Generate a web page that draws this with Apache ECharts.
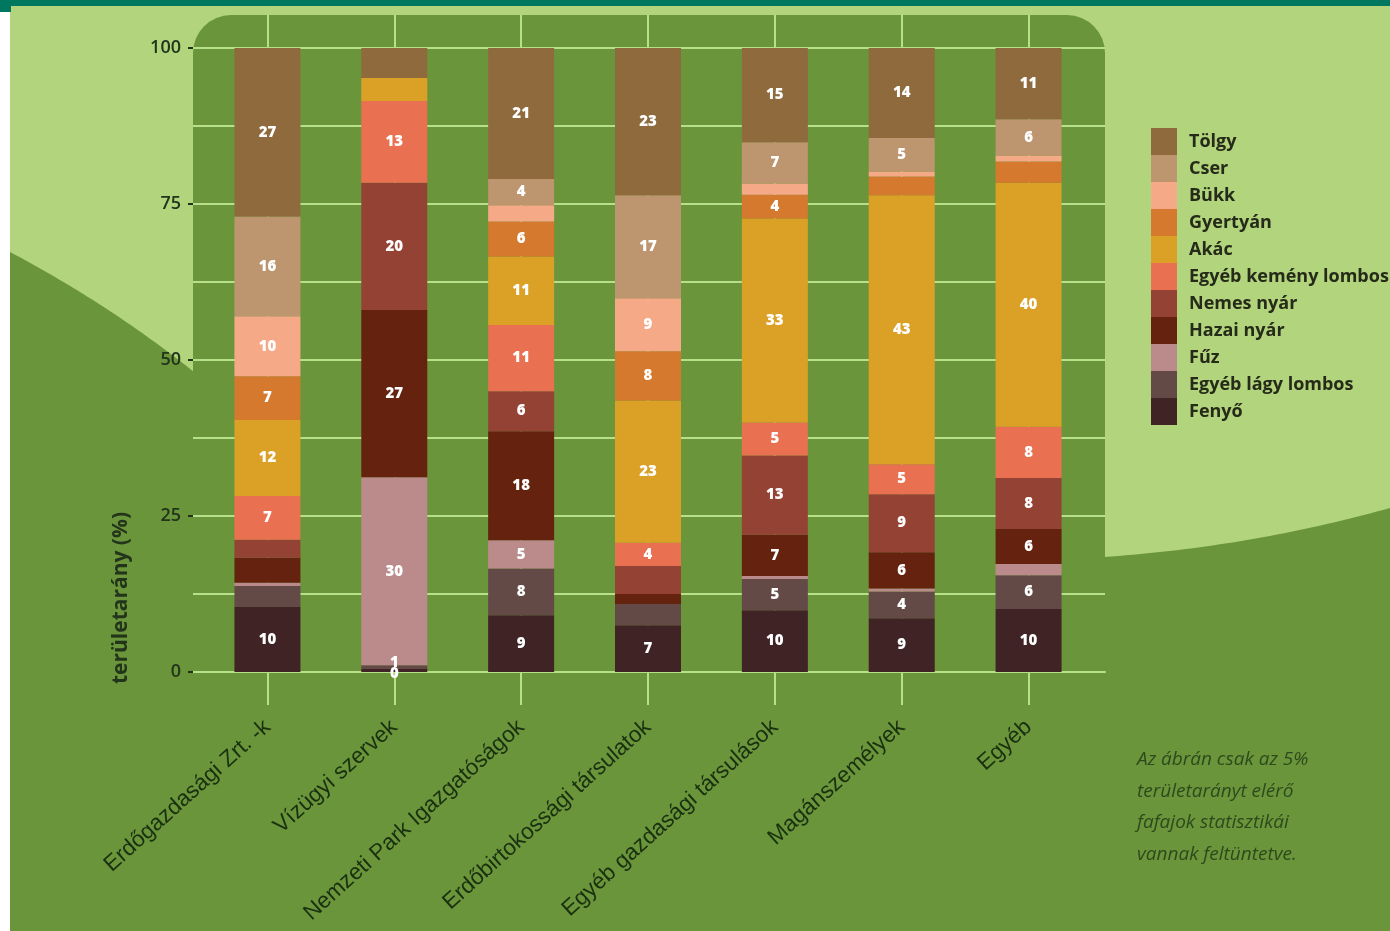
<!DOCTYPE html>
<html>
<head>
<meta charset="utf-8">
<script src="https://cdn.jsdelivr.net/npm/echarts@6/dist/echarts.min.js"></script>
<style>
  html, body { margin: 0; padding: 0; background: #ffffff; }
  #chart { width: 1390px; height: 931px; }
</style>
</head>
<body>
<div id="chart"></div>
<script>
// kategóriák (x tengely)
const categories = ['Erdőgazdasági Zrt. -k', 'Vízügyi szervek', 'Nemzeti Park Igazgatóságok',
  'Erdőbirtokossági társulatok', 'Egyéb gazdasági társulások', 'Magánszemélyek', 'Egyéb'];

// fafajok, fentről lefelé (jelmagyarázat sorrendje)
const species = ['Tölgy', 'Cser', 'Bükk', 'Gyertyán', 'Akác', 'Egyéb kemény lombos',
  'Nemes nyár', 'Hazai nyár', 'Fűz', 'Egyéb lágy lombos', 'Fenyő'];

// területarány (%) kategóriánként
const tolgy       = [27, 4.8, 21, 23.6, 15.1, 14.4, 11.4];
const cser        = [16, 0, 4.2, 16.5, 6.6, 5.4, 5.8];
const bukk        = [9.6, 0, 2.6, 8.5, 1.8, 0.8, 1.0];
const gyertyan    = [7, 0, 5.6, 7.9, 3.8, 3.0, 3.4];
const akac        = [12.2, 3.7, 11, 22.8, 32.7, 43.1, 39.1];
const egyebKemeny = [7, 13.1, 10.6, 3.7, 5.3, 4.8, 8.2];
const nemesNyar   = [2.9, 20.4, 6.4, 4.5, 12.7, 9.3, 8.2];
const hazaiNyar   = [4, 26.8, 17.5, 1.6, 6.6, 5.8, 5.6];
const fuz         = [0.5, 30.1, 4.5, 0, 0.5, 0.5, 1.8];
const egyebLagy   = [3.4, 0.6, 7.5, 3.4, 5.0, 4.3, 5.4];
const fenyo       = [10.4, 0.5, 9.1, 7.5, 9.9, 8.6, 10.1];

// a sávokba írt számok (null = nincs felirat)
const tolgyLbl       = [27, null, 21, 23, 15, 14, 11];
const cserLbl        = [16, null, 4, 17, 7, 5, 6];
const bukkLbl        = [10, null, null, 9, null, null, null];
const gyertyanLbl    = [7, null, 6, 8, 4, null, null];
const akacLbl        = [12, null, 11, 23, 33, 43, 40];
const egyebKemenyLbl = [7, 13, 11, 4, 5, 5, 8];
const nemesNyarLbl   = [null, 20, 6, null, 13, 9, 8];
const hazaiNyarLbl   = [null, 27, 18, null, 7, 6, 6];
const fuzLbl         = [null, 30, 5, null, null, null, null];
const egyebLagyLbl   = [null, 1, 8, null, 5, 4, 6];
const fenyoLbl       = [10, 0, 9, 7, 10, 9, 10];

const yTicks = [0, 25, 50, 75, 100];

const colors = ['#8e6a3d', '#bd9670', '#f6a987', '#d5792e', '#dba126', '#e97050',
  '#944234', '#65230f', '#bb8b8b', '#644a47', '#3f2325'];

const values = [tolgy, cser, bukk, gyertyan, akac, egyebKemeny, nemesNyar, hazaiNyar, fuz, egyebLagy, fenyo];
const labels = [tolgyLbl, cserLbl, bukkLbl, gyertyanLbl, akacLbl, egyebKemenyLbl,
  nemesNyarLbl, hazaiNyarLbl, fuzLbl, egyebLagyLbl, fenyoLbl];

const LIGHT = '#b1d47d';
const DARK = '#6b953b';
const GRIDLINE = '#b8e08a';
const TEXT = '#22351a';

// háttér hullám: másodfokú Bézier-görbe mintavételezve, alul lezárva
function wave(x0, y0, cx, cy, x1, y1) {
  const pts = [];
  for (let k = 0; k <= 40; k++) {
    const t = k / 40;
    const u = 1 - t;
    pts.push([u * u * x0 + 2 * u * t * cx + t * t * x1, u * u * y0 + 2 * u * t * cy + t * t * y1]);
  }
  pts.push([x1, 931], [x0, 931]);
  return pts;
}

// alulról felfelé halmozva: Fenyő legalul
const series = [];
for (let i = species.length - 1; i >= 0; i--) {
  const lbl = labels[i];
  series.push({
    name: species[i],
    type: 'bar',
    stack: 'total',
    xAxisIndex: 1,
    yAxisIndex: 1,
    barWidth: 66,
    itemStyle: { color: colors[i] },
    label: {
      show: true,
      position: 'inside',
      color: '#ffffff',
      fontFamily: 'Open Sans',
      fontWeight: 800,
      fontSize: 15,
      formatter: p => (lbl[p.dataIndex] === null ? '' : String(lbl[p.dataIndex]))
    },
    // nagyon vékony sávoknál a felirat kicsit elcsúszik, mint az eredetin
    data: values[i].map((v, j) => (v < 1 && lbl[j] !== null
      ? { value: v, label: { offset: [0, i === species.length - 1 ? 3 : -4] } }
      : v))
  });
}

const chart = echarts.init(document.getElementById('chart'));
chart.setOption({
  animation: false,
  backgroundColor: '#ffffff',
  graphic: [
    { type: 'rect', z: -20, shape: { x: 10, y: 0, width: 1380, height: 931 }, style: { fill: LIGHT } },
    { type: 'rect', z: -19, shape: { x: 0, y: 0, width: 1390, height: 6 }, style: { fill: '#00785f' } },
    { type: 'rect', z: -19, shape: { x: 0, y: 0, width: 11, height: 12 }, style: { fill: '#00785f' } },
    { type: 'polygon', z: -18, shape: { points: wave(10, 252, 110, 305, 194, 372) }, style: { fill: DARK } },
    { type: 'polygon', z: -18, shape: { points: wave(1104, 557, 1250, 547, 1390, 508) }, style: { fill: DARK } },
    { type: 'rect', z: -18, shape: { x: 193, y: 15, width: 912, height: 916, r: [38, 38, 0, 0] }, style: { fill: DARK } },
    {
      type: 'text', z: 10, x: 121, y: 598, rotation: Math.PI / 2,
      style: {
        text: 'területarány (%)', fill: TEXT, font: 'bold 21px "Open Sans", sans-serif',
        align: 'center', verticalAlign: 'middle'
      }
    },
    {
      type: 'text', z: 10, x: 1137, y: 744,
      style: {
        text: 'Az ábrán csak az 5%\nterületarányt elérő\nfafajok statisztikái\nvannak feltüntetve.',
        fill: '#2c4a1c', font: 'italic 19px "Open Sans", sans-serif', lineHeight: 31.5
      }
    }
  ],
  legend: {
    orient: 'vertical',
    left: 1151,
    top: 128,
    padding: 0,
    itemWidth: 26,
    itemHeight: 27,
    itemGap: 0,
    icon: 'rect',
    selectedMode: false,
    data: species,
    textStyle: {
      color: '#262a18',
      fontFamily: 'Open Sans',
      fontWeight: 700,
      fontSize: 18,
      lineHeight: 18,
      padding: [0, 0, 6, 7]
    }
  },
  grid: [
    { left: 193, right: 285, top: 48, bottom: 259 },
    { left: 204, right: 298, top: 15, bottom: 259 }
  ],
  xAxis: [
    {
      gridIndex: 0, type: 'value', min: 0, max: 1,
      axisLine: { show: true, lineStyle: { color: GRIDLINE, width: 2 } },
      axisTick: { show: false }, axisLabel: { show: false }, splitLine: { show: false }
    },
    {
      gridIndex: 1, type: 'category', data: categories,
      axisLine: { show: false },
      axisTick: { show: true, alignWithLabel: true, length: 33, lineStyle: { color: GRIDLINE, width: 2 } },
      splitLine: { show: true, alignWithLabel: true, lineStyle: { color: GRIDLINE, width: 2 } },
      axisLabel: {
        rotate: 42, margin: 52, color: '#1a3110', fontSize: 22.5,
        fontFamily: 'Liberation Sans', interval: 0
      }
    }
  ],
  yAxis: [
    {
      gridIndex: 0, type: 'value', min: 0, max: 100, interval: 25,
      axisLine: { show: false },
      axisTick: { show: true, length: 5, lineStyle: { color: '#22321a', width: 2 } },
      axisLabel: {
        color: TEXT, fontSize: 18, fontFamily: 'Open Sans', fontWeight: 600, margin: 12,
        formatter: v => (yTicks.includes(v) ? String(v) : '')
      },
      splitLine: { show: true, lineStyle: { color: GRIDLINE, width: 2 } },
      minorTick: { show: false, splitNumber: 2 },
      minorSplitLine: { show: true, lineStyle: { color: GRIDLINE, width: 2 } }
    },
    {
      gridIndex: 1, type: 'value', min: 0, max: 105.3, show: false,
      splitLine: { show: false }
    }
  ],
  series: series
});
</script>
</body>
</html>
